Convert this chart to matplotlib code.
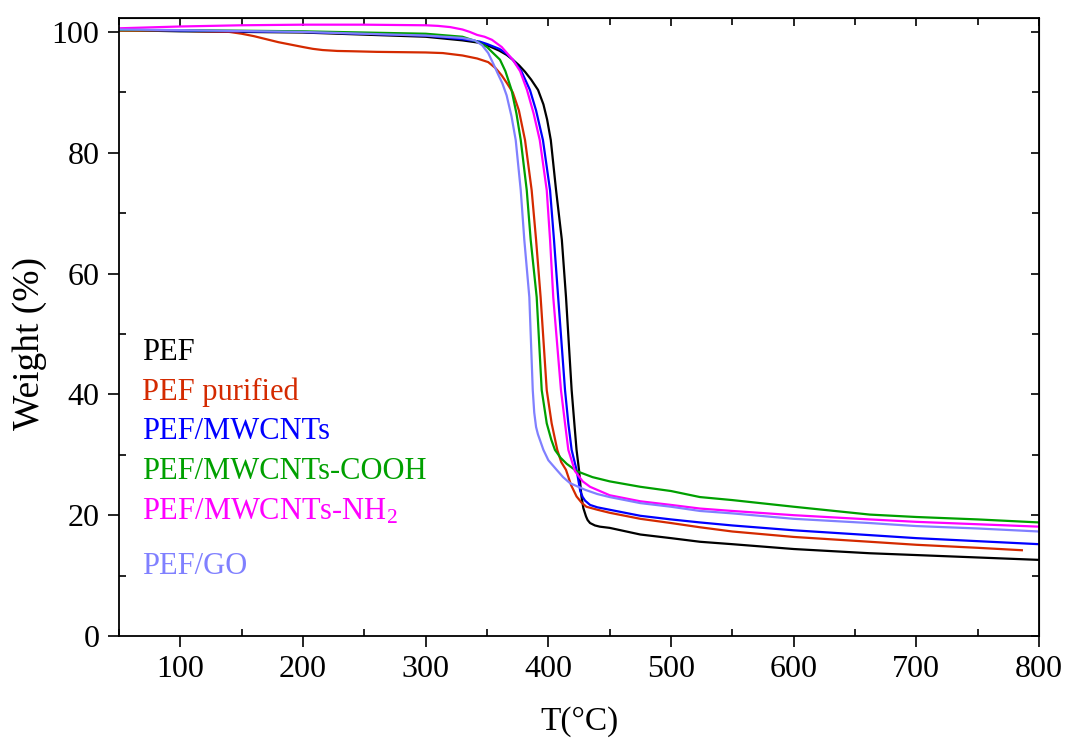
import matplotlib
matplotlib.use("Agg")
import matplotlib.pyplot as plt
from matplotlib.ticker import MultipleLocator

plt.rcParams['font.family'] = ['Liberation Serif', 'DejaVu Serif']
plt.rcParams['mathtext.fontset'] = 'custom'
plt.rcParams['mathtext.rm'] = 'Liberation Serif'
plt.rcParams['mathtext.it'] = 'Liberation Serif:italic'

# TGA curves (T in degC, weight in %)
t_pef = [50, 100, 200, 300, 330, 344, 350, 360, 366, 371, 376, 381, 386, 391.6, 396, 399, 402,
         406.3, 411, 414.4, 419, 421.2, 423, 425, 427, 428.5, 430.7, 432, 434, 438, 442, 450,
         475, 500, 523.6, 550, 600, 662, 700, 750, 800]
w_pef = [100.3, 100.1, 99.9, 99.2, 98.6, 98.2, 97.8, 96.9, 96.2, 95.4, 94.5, 93.4, 92.1, 90.4, 88.0, 85.5, 82.1,
         73.8, 65.6, 56.1, 40.7, 35.2, 30.8, 27.5, 23.1, 21.2, 19.8, 19.2, 18.7, 18.3, 18.1, 17.9,
         16.8, 16.2, 15.6, 15.2, 14.4, 13.7, 13.4, 13.0, 12.6]

t_pur = [50, 100, 140, 150, 160, 170, 180, 190, 200, 208, 216, 228, 240, 260, 300, 314, 330, 342,
         351, 357, 362, 366, 371, 376, 381, 386.4, 390, 393.7, 398.7, 402.7, 407.3, 410.5, 414.4,
         418.5, 423, 427, 431, 440, 450, 475, 500, 523.6, 550, 600, 662, 700, 750, 786]
w_pur = [100.2, 100.2, 100.0, 99.7, 99.3, 98.8, 98.3, 97.9, 97.5, 97.2, 97.0, 96.85, 96.8, 96.7, 96.6, 96.5, 96.1, 95.6,
         95.0, 94.0, 92.8, 91.6, 90.0, 87.0, 82.1, 73.8, 65.6, 56.1, 40.7, 35.2, 30.8, 28.8, 27.5,
         25.0, 23.1, 22.1, 21.4, 20.9, 20.4, 19.4, 18.7, 18.0, 17.3, 16.4, 15.6, 15.1, 14.6, 14.2]

t_mw = [50, 100, 200, 300, 330, 344, 350, 360, 366, 371, 378, 385, 390, 395.6, 401.4, 404.6, 408,
        413.6, 416.3, 419, 423, 426, 428, 430, 434, 440, 450, 475, 500, 523.6, 550, 600, 662, 700, 750, 800]
w_mw = [100.4, 100.2, 100.0, 99.4, 98.8, 98.4, 98.0, 97.2, 96.4, 95.4, 93.5, 90.4, 87.0, 82.1, 73.8, 65.6, 56.1,
        40.7, 35.2, 30.8, 27.5, 24.0, 23.0, 22.4, 21.7, 21.3, 20.9, 19.9, 19.3, 18.8, 18.3, 17.5, 16.7, 16.2, 15.7, 15.2]

t_cooh = [50, 100, 200, 300, 330, 342, 350, 355, 360.6, 365, 370, 374, 377.5, 382.4, 385.6, 390.5, 394.6,
          398.7, 402.4, 405.4, 410, 415, 423, 436, 450, 475, 500, 523.6, 550, 600, 662, 700, 750, 800]
w_cooh = [100.3, 100.3, 100.1, 99.7, 99.2, 98.4, 97.5, 96.5, 95.4, 93.5, 90.4, 86.5, 82.1, 73.8, 65.6, 56.1, 40.7,
          35.2, 32.5, 30.8, 29.5, 28.5, 27.3, 26.3, 25.6, 24.7, 24.0, 23.0, 22.5, 21.4, 20.1, 19.7, 19.3, 18.8]

t_nh2 = [50, 100, 150, 200, 250, 300, 310, 320, 325, 330, 336, 342, 348, 354, 362, 371, 377, 382.6,
         388, 393, 398.7, 401.4, 404, 410.3, 413.6, 416.3, 421.7, 428, 434, 450, 475, 500, 523.6,
         550, 600, 662, 700, 750, 800]
w_nh2 = [100.6, 100.9, 101.1, 101.2, 101.2, 101.1, 101.0, 100.8, 100.6, 100.4, 100.0, 99.5, 99.2, 98.7, 97.5, 95.4, 93.5, 90.4,
         86.5, 82.1, 73.8, 65.6, 56.1, 40.7, 35.2, 30.8, 27.3, 25.6, 24.7, 23.3, 22.3, 21.7, 21.1,
         20.7, 20.0, 19.3, 18.9, 18.5, 18.1]

t_go = [50, 100, 200, 300, 330, 340, 346, 351, 355, 359, 362.5, 366, 370, 373.4, 377.5, 380.4, 384.5,
        387.3, 388.5, 390, 391.5, 393.4, 396, 400, 406.8, 412, 417.7, 430, 440, 450, 475, 500, 523.6,
        550, 600, 662, 700, 750, 800]
w_go = [100.4, 100.3, 100.0, 99.4, 99.0, 98.6, 97.8, 96.5, 94.8, 93.0, 91.5, 89.5, 86.0, 82.1, 73.8, 65.6, 56.1,
        40.7, 37.0, 34.6, 33.4, 32.3, 30.8, 29.1, 27.5, 26.3, 25.3, 24.2, 23.5, 23.0, 22.0, 21.4, 20.7,
        20.3, 19.4, 18.7, 18.2, 17.8, 17.3]

series = [
    ("PEF", t_pef, w_pef, "black", 47.0),
    ("PEF purified", t_pur, w_pur, "#D42A00", 40.4),
    ("PEF/MWCNTs", t_mw, w_mw, "#0000FF", 33.8),
    ("PEF/MWCNTs-COOH", t_cooh, w_cooh, "#00A000", 27.3),
    ("PEF/MWCNTs-NH$_2$", t_nh2, w_nh2, "#FF00FF", 20.6),
    ("PEF/GO", t_go, w_go, "#8080FF", 11.5),
]

fig = plt.figure(figsize=(10.67, 7.45), dpi=100)
ax = fig.add_axes([0.1115, 0.1463, 0.8623, 0.8295])

for name, t, w, c, ty in series:
    ax.plot(t, w, color=c, lw=1.6)
    ax.text(68.5, ty, name, color=c, fontsize=22, va='center', ha='left')

ax.set_xlim(50, 800)
ax.set_ylim(0, 102.3)
ax.xaxis.set_major_locator(MultipleLocator(100))
ax.xaxis.set_minor_locator(MultipleLocator(50))
ax.yaxis.set_major_locator(MultipleLocator(20))
ax.yaxis.set_minor_locator(MultipleLocator(10))
ax.tick_params(which='major', direction='out', length=8, width=1.2, labelsize=23, pad=6)
ax.tick_params(which='minor', direction='in', length=5, width=1.2)
for s in ax.spines.values():
    s.set_linewidth(1.3)

# inward ticks on top and right frame, no labels
top = ax.secondary_xaxis('top')
top.xaxis.set_major_locator(MultipleLocator(100))
top.xaxis.set_minor_locator(MultipleLocator(50))
top.tick_params(which='both', direction='in', labeltop=False, width=1.2)
top.tick_params(which='major', length=6)
top.tick_params(which='minor', length=5)
right = ax.secondary_yaxis('right')
right.yaxis.set_major_locator(MultipleLocator(20))
right.yaxis.set_minor_locator(MultipleLocator(10))
right.tick_params(which='both', direction='in', labelright=False, width=1.2)
right.tick_params(which='major', length=6)
right.tick_params(which='minor', length=5)

ax.set_xlabel("T(\u00b0C)", fontsize=24, labelpad=16)
ax.set_ylabel("Weight (%)", fontsize=27)
ax.yaxis.set_label_coords(-0.078, 0.474)

fig.savefig("out.png", dpi=100)
